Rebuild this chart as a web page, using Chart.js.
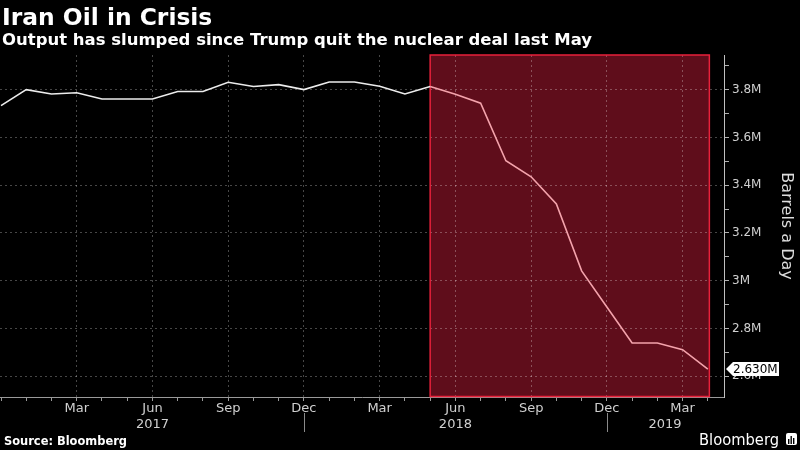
<!DOCTYPE html>
<html>
<head>
<meta charset="utf-8">
<title>Iran Oil in Crisis</title>
<script src="https://cdn.jsdelivr.net/npm/chart.js@4.4.1/dist/chart.umd.min.js"></script>
<style>
  html, body { margin: 0; padding: 0; background: #000; }
  #wrap { width: 800px; height: 450px; position: relative; }
</style>
</head>
<body>
<div id="wrap"><canvas id="oilChart"></canvas></div>
<script>
// Iran crude output, monthly (million barrels a day)
const months = [
  '2016-12',
  '2017-01', '2017-02', '2017-03', '2017-04', '2017-05', '2017-06',
  '2017-07', '2017-08', '2017-09', '2017-10', '2017-11', '2017-12',
  '2018-01', '2018-02', '2018-03', '2018-04', '2018-05', '2018-06',
  '2018-07', '2018-08', '2018-09', '2018-10', '2018-11', '2018-12',
  '2019-01', '2019-02', '2019-03', '2019-04'
];
const output = [
  3.733,
  3.800, 3.782, 3.787, 3.761, 3.761, 3.761,
  3.792, 3.792, 3.831, 3.813, 3.821, 3.800,
  3.832, 3.832, 3.814, 3.782, 3.813, 3.781,
  3.743, 3.502, 3.435, 3.321, 3.041, 2.890,
  2.739, 2.739, 2.711, 2.630
];
const monthNames = ['Jan', 'Feb', 'Mar', 'Apr', 'May', 'Jun', 'Jul', 'Aug', 'Sep', 'Oct', 'Nov', 'Dec'];
const yTicks = [2.6, 2.7, 2.8, 2.9, 3.0, 3.1, 3.2, 3.3, 3.4, 3.5, 3.6, 3.7, 3.8, 3.9];
const yearLabels = ['2017', '2018', '2019'];
const sanctionsStart = '2018-05';
const lastLabel = '2.630M';

const TITLE = 'Iran Oil in Crisis';
const SUBTITLE = 'Output has slumped since Trump quit the nuclear deal last May';
const FONT = "'DejaVu Sans', sans-serif";

const startIdx = months.indexOf(sanctionsStart);
const monthOf = i => +months[i].slice(5);
const isQuarter = i => Number.isInteger(i) && i > 0 && monthOf(i) % 3 === 0;
const isMajorY = v => Math.abs(v * 5 - Math.round(v * 5)) < 1e-6;
const gridColor = 'rgba(255,255,255,0.28)';

// shaded period, page texts, year row, last value tag
const decorations = {
  id: 'decorations',
  beforeDraw(chart) {
    const { ctx, chartArea: a, scales: { x } } = chart;
    const x0 = x.getPixelForValue(startIdx);
    const x1 = x.getPixelForValue(months.length - 1 + 0.06);
    ctx.save();
    ctx.fillStyle = '#5f0d1b';
    ctx.fillRect(x0, a.top, x1 - x0, a.bottom - a.top);
    ctx.restore();
  },
  beforeDatasetsDraw(chart) {
    const { ctx, chartArea: a, scales: { x } } = chart;
    const x0 = x.getPixelForValue(startIdx);
    const x1 = x.getPixelForValue(months.length - 1 + 0.06);
    ctx.save();
    ctx.strokeStyle = '#e8213b';
    ctx.lineWidth = 1.5;
    ctx.strokeRect(x0, a.top, x1 - x0, a.bottom - a.top - 0.5);
    ctx.restore();
  },
  afterDraw(chart) {
    const { ctx, scales: { x, y } } = chart;
    ctx.save();
    // titles
    ctx.fillStyle = '#fff';
    ctx.textBaseline = 'alphabetic';
    ctx.textAlign = 'left';
    ctx.font = 'bold 23.4px ' + FONT;
    ctx.fillText(TITLE, 2, 25, 211);
    ctx.font = 'bold 16.5px ' + FONT;
    ctx.fillText(SUBTITLE, 2, 45, 590);

    // year row and separators
    ctx.fillStyle = '#d0d0d0';
    ctx.textAlign = 'center';
    ctx.font = '13px ' + FONT;
    const yearAt = [6, 18, 26.3];
    yearLabels.forEach((t, i) => ctx.fillText(t, x.getPixelForValue(yearAt[i]), 428));
    ctx.strokeStyle = '#8a8a8a';
    ctx.lineWidth = 1;
    [12, 24].forEach(i => {
      const px = Math.round(x.getPixelForValue(i)) + 0.5;
      ctx.beginPath();
      ctx.moveTo(px, 413);
      ctx.lineTo(px, 432);
      ctx.stroke();
    });

    // footer
    ctx.textAlign = 'left';
    ctx.fillStyle = '#fff';
    ctx.font = 'bold 12px ' + FONT;
    ctx.fillText('Source: Bloomberg', 4, 445, 123);
    ctx.font = '16px ' + FONT;
    ctx.fillText('Bloomberg', 699, 445, 80);
    ctx.fillStyle = '#fff';
    ctx.beginPath();
    ctx.roundRect(786, 433, 11, 12, 2);
    ctx.fill();
    ctx.fillStyle = '#000';
    [[788, 439, 1.4, 5], [790.5, 436, 1.4, 8], [793, 438, 1.4, 6]].forEach(r => ctx.fillRect(...r));

    // last value tag
    const ty = y.getPixelForValue(output[output.length - 1]);
    const tx = chart.chartArea.right + 2;
    ctx.fillStyle = '#fff';
    ctx.beginPath();
    ctx.moveTo(tx, ty);
    ctx.lineTo(tx + 7, ty - 7);
    ctx.lineTo(tx + 53, ty - 7);
    ctx.lineTo(tx + 53, ty + 7);
    ctx.lineTo(tx + 7, ty + 7);
    ctx.closePath();
    ctx.fill();
    ctx.fillStyle = '#000';
    ctx.font = '12px ' + FONT;
    ctx.textBaseline = 'middle';
    ctx.fillText(lastLabel, tx + 7, ty + 1, 46);
    ctx.restore();
  }
};

const lineWhite = '#ececec';
const linePink = '#f4a3ac';

new Chart(document.getElementById('oilChart'), {
  type: 'line',
  data: {
    datasets: [{
      label: 'Iran crude output',
      data: output.map((v, i) => ({ x: i, y: v })),
      borderColor: lineWhite,
      borderWidth: 1.6,
      pointRadius: 0,
      tension: 0,
      segment: {
        borderColor: c => c.p0DataIndex >= startIdx ? linePink : lineWhite
      }
    }]
  },
  options: {
    responsive: true,
    maintainAspectRatio: false,
    animation: false,
    layout: { padding: { top: 55, left: 0, right: 0, bottom: 0 } },
    plugins: {
      legend: { display: false },
      tooltip: { enabled: false }
    },
    scales: {
      x: {
        type: 'linear',
        min: -0.04,
        max: 28.64,
        afterBuildTicks: s => { s.ticks = months.map((m, i) => ({ value: i })); },
        afterFit: s => { s.height = 53; },
        ticks: {
          autoSkip: false,
          maxRotation: 0,
          padding: 0,
          color: '#d0d0d0',
          font: { family: FONT, size: 13 },
          callback: v => isQuarter(v) ? monthNames[monthOf(v) - 1] : ''
        },
        grid: {
          color: c => c.tick && isQuarter(c.tick.value) ? gridColor : 'rgba(0,0,0,0)',
          tickColor: '#9a9a9a',
          tickLength: 4,
          lineWidth: 1
        },
        border: { display: true, color: '#9a9a9a', width: 1, dash: [2, 3] }
      },
      y: {
        position: 'right',
        min: 2.513,
        max: 3.945,
        afterBuildTicks: s => { s.ticks = yTicks.map(v => ({ value: v })); },
        afterFit: s => { s.width = 76; },
        ticks: {
          padding: 3,
          color: '#d0d0d0',
          font: { family: FONT, size: 12 },
          callback: v => isMajorY(v) ? (+v.toFixed(1)) + 'M' : ''
        },
        grid: {
          color: c => c.tick && isMajorY(c.tick.value) ? gridColor : 'rgba(0,0,0,0)',
          tickColor: '#b0b0b0',
          tickLength: 5,
          lineWidth: 1
        },
        border: { display: true, color: '#c0c0c0', width: 1, dash: [2, 3] },
        title: {
          display: true,
          text: 'Barrels a Day',
          color: '#dcdcdc',
          font: { family: FONT, size: 16 },
          padding: { top: 4, bottom: 2 }
        }
      }
    }
  },
  plugins: [decorations]
});
</script>
</body>
</html>
